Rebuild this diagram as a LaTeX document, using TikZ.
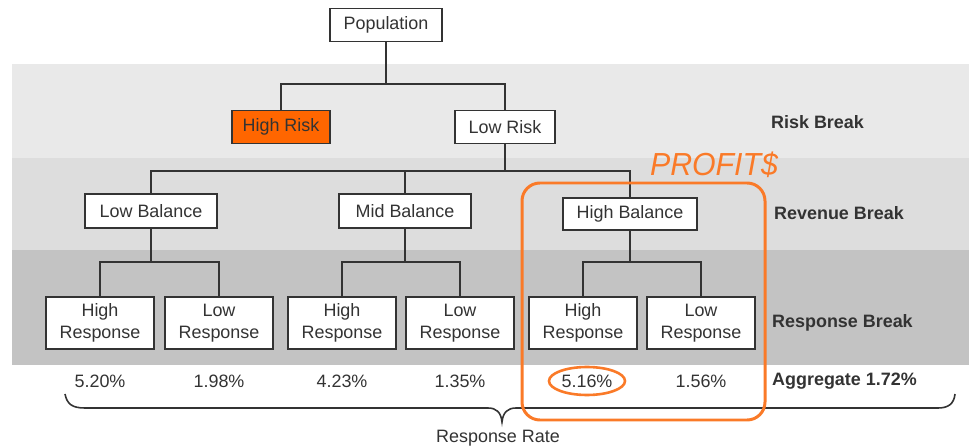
\documentclass[tikz,border=0pt]{standalone}
\usepackage{fontspec}
\setmainfont{Liberation Sans}
\usetikzlibrary{calc}
\definecolor{bandA}{HTML}{E9E9E9}
\definecolor{bandB}{HTML}{DDDDDD}
\definecolor{bandC}{HTML}{C3C3C3}
\definecolor{ink}{HTML}{333333}
\definecolor{hirisk}{HTML}{FF6600}
\definecolor{note}{HTML}{FA7A28}
\tikzset{
  box/.style={draw=ink, line width=1.8pt, fill=white, text=ink, inner sep=0pt, minimum height=33, font=\fontsize{18}{22}\selectfont},
  resp/.style={box, minimum width=109, minimum height=52, align=center},
  conn/.style={draw=ink, line width=1.8pt},
  lbl/.style={text=ink, font=\fontsize{18}{22}\selectfont\bfseries, anchor=west, inner sep=0pt},
  pct/.style={text=ink, font=\fontsize{18}{22}\selectfont, inner sep=0pt},
  annot/.style={draw=note, line width=3pt}
}
\begin{document}
\begin{tikzpicture}[x=1bp, y=-1bp]
\useasboundingbox (0,0) rectangle (969,448);
% bands
\fill[bandA] (12,64) rectangle (969,158);
\fill[bandB] (12,158) rectangle (969,250);
\fill[bandC] (12,250) rectangle (969,365);
% junction levels
\coordinate (j1) at (0,84);
\coordinate (j2) at (0,171);
\coordinate (j3) at (0,262);
% nodes
\node[box, minimum width=113] (pop) at (386,25) {Population};
\node[box, minimum width=99, fill=hirisk, text=black!80] (hr) at (281,127) {High Risk};
\node[box, minimum width=100] (lr) at (505,127) {Low Risk};
\node[box, minimum width=133, minimum height=34] (lb) at (151,211) {Low Balance};
\node[box, minimum width=133, minimum height=34] (mb) at (405,211) {Mid Balance};
\node[box, minimum width=134, minimum height=32] (hb) at (630,214) {High Balance};
\node[resp] (r1) at (100,323) {High\\Response};
\node[resp] (r2) at (219,323) {Low\\Response};
\node[resp] (r3) at (342,323) {High\\Response};
\node[resp] (r4) at (460,323) {Low\\Response};
\node[resp] (r5) at (583,323) {High\\Response};
\node[resp] (r6) at (701,323) {Low\\Response};
% connectors
\draw[conn] (pop.south) -- (pop.south |- j1);
\draw[conn] (hr.north) |- (pop.south |- j1) -| (lr.north);
\draw[conn] (lr.south) -- (lr.south |- j2);
\draw[conn] (lb.north) |- (lr.south |- j2) -| (hb.north);
\draw[conn] (mb.north) -- (mb.north |- j2);
\draw[conn] (lb.south) -- (lb.south |- j3);
\draw[conn] (r1.north) |- (lb.south |- j3) -| (r2.north);
\draw[conn] (mb.south) -- (mb.south |- j3);
\draw[conn] (r3.north) |- (mb.south |- j3) -| (r4.north);
\draw[conn] (hb.south) -- (hb.south |- j3);
\draw[conn] (r5.north) |- (hb.south |- j3) -| (r6.north);
% right labels
\node[lbl] (lrisk) at (771,122) {Risk Break};
\node[lbl] (lrev) at (774,213) {Revenue Break};
\node[lbl] (lresp) at (772,323) {Response Break};
\node[lbl] (lagg) at (772,381) {Aggregate 1.72\%};
% percentages
\node[pct] (p1) at (100,381) {5.20\%};
\node[pct] (p2) at (219,381) {1.98\%};
\node[pct] (p3) at (342,381) {4.23\%};
\node[pct] (p4) at (460,381) {1.35\%};
\node[pct] (p5) at (587,381) {5.16\%};
\node[pct] (p6) at (701,381) {1.56\%};
% brace
\draw[ink, line width=1.6pt] (65,394) .. controls (67,404) and (72,408) .. (85,408)
  -- (488,408) .. controls (496,408) and (501,412) .. (502,422)
  .. controls (503,412) and (508,408) .. (516,408)
  -- (938,408) .. controls (948,408) and (954,404) .. (955,394);
\node[pct] (rr) at (498,438) {Response Rate};
% annotations
\draw[annot, rounded corners=18] (522,183) rectangle (765,420);
\draw[annot, line width=2.6pt] (p5) ellipse [x radius=38, y radius=14];
\node[text=note, inner sep=0pt, font=\fontsize{32}{32}\selectfont\itshape, xscale=0.95] (profit) at (714,165) {PROFIT\$};
\end{tikzpicture}
\end{document}
